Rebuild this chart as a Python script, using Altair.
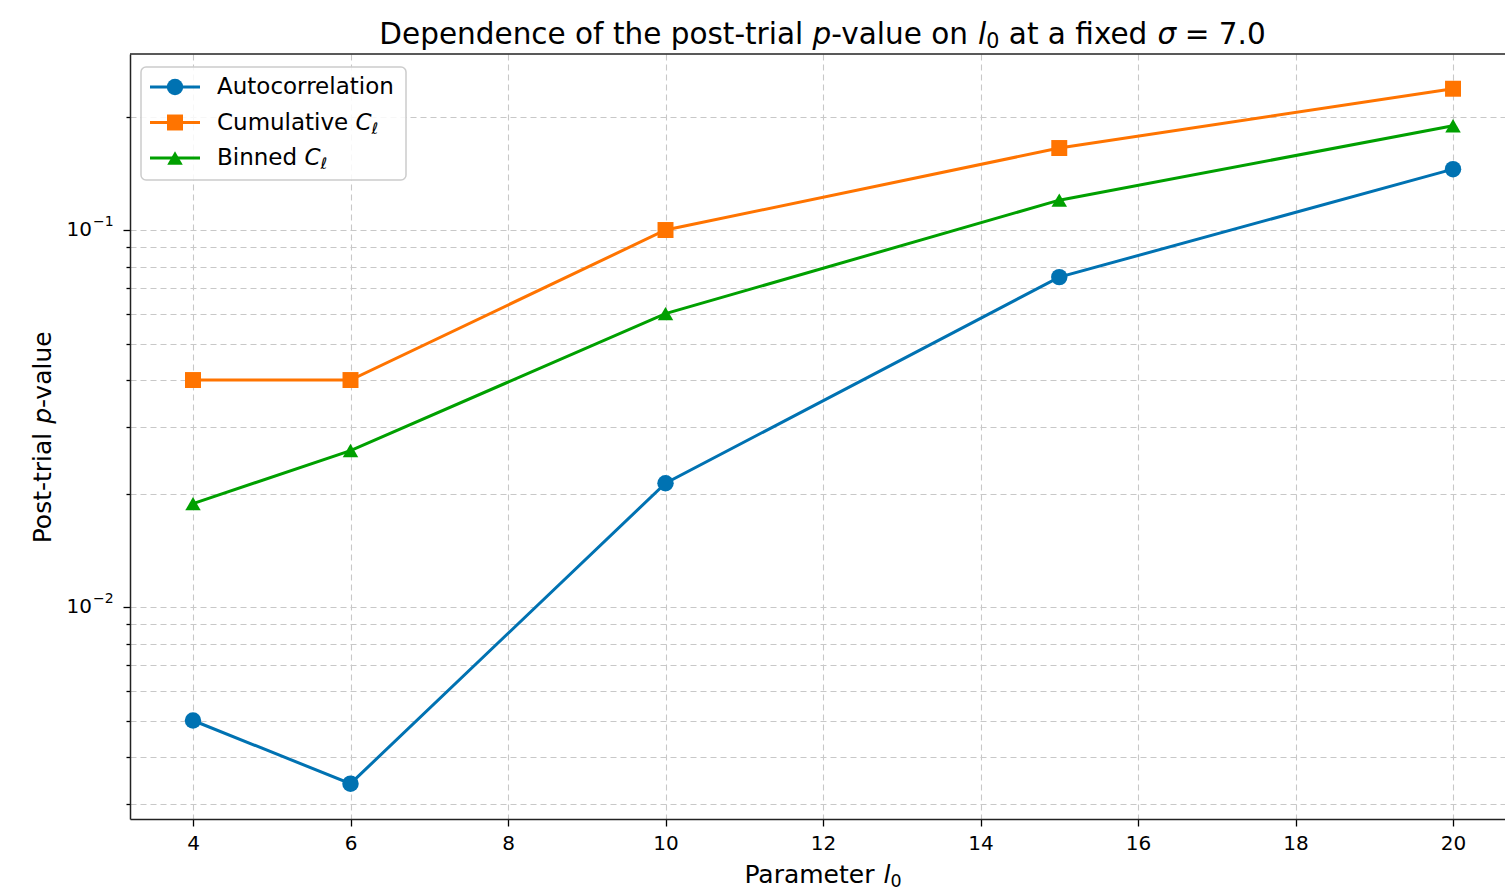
import altair as alt
import pandas as pd

# Post-trial p-values for each method as a function of l0 (sigma fixed at 7.0)
l0_values = [4, 6, 10, 15, 20]
autocorrelation = [0.0050, 0.0034, 0.0213, 0.075, 0.145]
cumulative_cl = [0.040, 0.040, 0.100, 0.165, 0.237]
binned_cl = [0.0188, 0.026, 0.060, 0.120, 0.189]

series_keys = ["Autocorrelation", "Cumulative", "Binned"]
series_colors = ["#0072B2", "#FF7400", "#00A000"]
series_shapes = ["circle", "square", "triangle-up"]
marker_sizes = [270, 240, 330]

x_ticks = [4, 6, 8, 10, 12, 14, 16, 18, 20]
y_ticks = [0.003, 0.004, 0.005, 0.006, 0.007, 0.008, 0.009,
           0.01, 0.02, 0.03, 0.04, 0.05, 0.06, 0.07, 0.08, 0.09,
           0.1, 0.2]
y_decades = [0.1, 0.01]
y_decade_exp = ["−1", "−2"]

FONT = "DejaVu Sans"
W, H = 1375, 765

rows = []
for key, vals in zip(series_keys, [autocorrelation, cumulative_cl, binned_cl]):
    for x, p in zip(l0_values, vals):
        rows.append({"l0": x, "series": key, "p": p})
df = pd.DataFrame(rows)

color = alt.Color("series:N", scale=alt.Scale(domain=series_keys, range=series_colors), legend=None)
shape = alt.Shape("series:N", scale=alt.Scale(domain=series_keys, range=series_shapes), legend=None)
size = alt.Size("series:N", scale=alt.Scale(domain=series_keys, range=marker_sizes), legend=None)

x_scale = alt.Scale(domain=[3.2, 20.66], nice=False, zero=False)
y_scale = alt.Scale(type="log", domain=[0.00274, 0.293], nice=False)

x_enc = alt.X("l0:Q", scale=x_scale,
              axis=alt.Axis(values=x_ticks, title=None, tickSize=7, labelPadding=7,
                            format="d", labelFlush=False, labelOverlap=False))
y_enc = alt.Y("p:Q", scale=y_scale,
              axis=alt.Axis(values=y_ticks, title=None, labels=False,
                            tickSize={"condition": {"test": "datum.value == 0.1 || datum.value == 0.01",
                                                    "value": 7}, "value": 4}))

base = alt.Chart(df)
lines = base.mark_line(strokeWidth=3).encode(x=x_enc, y=y_enc, color=color, detail="series:N")
points = base.mark_point(filled=True, opacity=1).encode(x=x_enc, y=y_enc, color=color, shape=shape, size=size)
top_frame = alt.Chart(pd.DataFrame({"a": [0]})).mark_rule(color="#222222", strokeWidth=1.5).encode(
    x=alt.value(0), x2=alt.value(W), y=alt.value(0))

# decade labels 10^-1, 10^-2 with raised exponents
dec_df = pd.DataFrame({"p": y_decades, "base": ["10", "10"], "exp": y_decade_exp})
dec_base = alt.Chart(dec_df).mark_text(font=FONT, fontSize=20, align="right", baseline="middle",
                                       color="black").encode(
    x=alt.value(-38), y=alt.Y("p:Q", scale=y_scale), text="base:N")
dec_exp = alt.Chart(dec_df).mark_text(font=FONT, fontSize=14, align="left", baseline="middle",
                                      color="black", dy=-8).encode(
    x=alt.value(-37), y=alt.Y("p:Q", scale=y_scale), text="exp:N")
data_layer = alt.layer(lines, points, top_frame, dec_base, dec_exp)

# Legend drawn as line + marker glyphs
legend_df = pd.DataFrame({"series": series_keys, "idx": [0, 1, 2]})
leg = alt.Chart(legend_df).transform_calculate(ly="33 + 35.5 * datum.idx")
ly = alt.Y("ly:Q", scale=None, axis=None)
legend_box = alt.Chart(pd.DataFrame({"a": [0]})).mark_rect(
    fill="white", fillOpacity=0.85, stroke="#cccccc", strokeWidth=1.5, cornerRadius=5).encode(
    x=alt.value(11), x2=alt.value(276), y=alt.value(13), y2=alt.value(126))
legend_lines = leg.mark_rule(strokeWidth=3).encode(x=alt.value(20), x2=alt.value(70), y=ly, color=color)
legend_pts = leg.mark_point(filled=True, opacity=1).encode(x=alt.value(45), y=ly, color=color,
                                                           shape=shape, size=size)
legend_txt = leg.mark_text(font=FONT, fontSize=23, align="left", baseline="middle", color="black").encode(
    x=alt.value(87), y=ly, text="series:N")
legend_layer = alt.layer(legend_box, legend_lines, legend_pts, legend_txt)


def piece(s, x, y, size, italic=False, angle=0, baseline="alphabetic"):
    return alt.Chart(pd.DataFrame({"t": [s]})).mark_text(
        font=FONT, fontSize=size, fontStyle="italic" if italic else "normal",
        align="left", baseline=baseline, angle=angle, color="black").encode(
        x=alt.value(x), y=alt.value(y), text="t:N")


texts = []
# legend label subscripts: C_ell
for x0, yy in [(225.6, 68.5), (174.4, 104)]:
    texts.append(piece("C", x0, yy, 23, italic=True, baseline="middle"))
    texts.append(piece("ℓ", x0 + 16, yy + 6, 16, italic=True, baseline="middle"))

# title (offsets in em of DejaVu Sans advance widths)
TF = 29.5
tx0 = 823 - 130 - 30.08 * TF / 2
ty = -10
title_parts = [("Dependence of the post-trial", 0.0, False, 1.0, 0),
               ("p", 14.688, True, 1.0, 0),
               ("-value on", 15.323, False, 1.0, 0),
               ("l", 20.298, True, 1.0, 0),
               ("0", 20.576, False, 0.7, 4),
               ("at a fixed", 21.339, False, 1.0, 0),
               ("σ", 26.383, True, 1.0, 0),
               ("= 7.0", 27.30, False, 1.0, 0)]
for s, em, it, sc, dy in title_parts:
    texts.append(piece(s, tx0 + em * TF, ty + dy, TF * sc, italic=it))

# x axis title
AF = 25
ax0 = 823 - 130 - 6.29 * AF / 2
ay = 829
for s, em, it, sc, dy in [("Parameter", 0.0, False, 1.0, 0), ("l", 5.565, True, 1.0, 0),
                          ("0", 5.843, False, 0.7, 4)]:
    texts.append(piece(s, ax0 + em * AF, ay + dy, AF * sc, italic=it))

# y axis title (rotated, reading upwards)
yx = 51 - 130
yy0 = 437 - 54 + 8.507 * AF / 2
for s, em, it in [("Post-trial", 0.0, False), ("p", 4.779, True), ("-value", 5.414, False)]:
    texts.append(piece(s, yx, yy0 - em * AF, AF, italic=it, angle=270))

chart = alt.layer(data_layer, legend_layer, *texts).resolve_scale(
    x="independent", y="independent").properties(
    width=W, height=H, autosize="none",
    padding={"left": 130, "top": 54, "right": 0, "bottom": 71},
    background="white").configure_view(strokeWidth=0).configure_axis(
    labelFont=FONT, labelFontSize=20, labelColor="black", tickColor="black", tickWidth=1.3,
    domainColor="#222222", domainWidth=1.5, gridColor="#c8c8c8", gridDash=[6, 4], gridWidth=1.1)

chart.save("out.html", embed_options={"renderer": "svg", "actions": False})
